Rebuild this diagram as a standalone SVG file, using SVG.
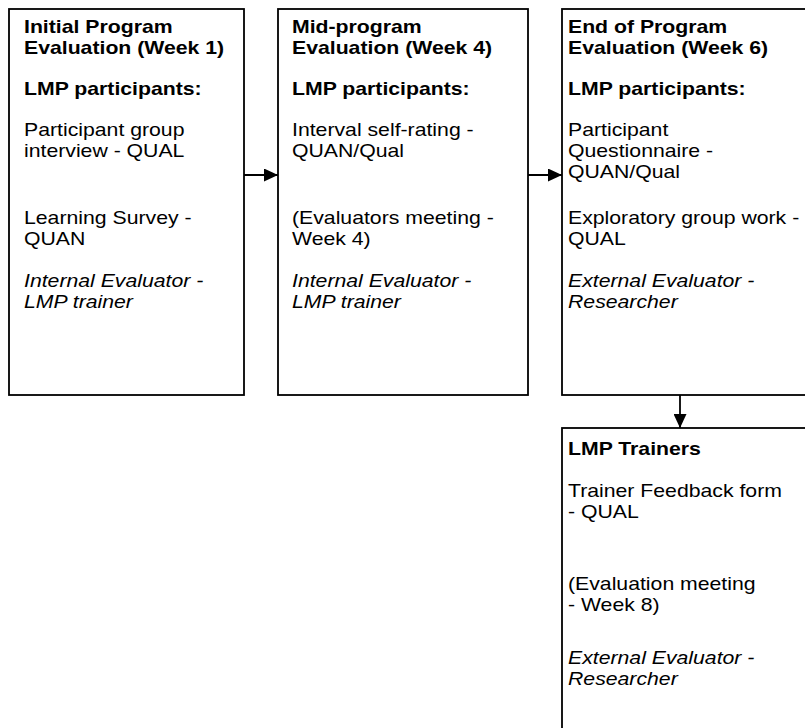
<svg xmlns="http://www.w3.org/2000/svg" width="805" height="728" viewBox="0 0 805 728">
<style>
.box{fill:#fff;stroke:#000;stroke-width:1.8}
text{font-family:"Liberation Sans",Arial,sans-serif;font-size:18px;fill:#000}
.b{font-weight:bold}
.i{font-style:italic}
.conn{stroke:#000;stroke-width:1.8;fill:none}
</style>
<defs>
<marker id="ah" markerUnits="userSpaceOnUse" markerWidth="15" markerHeight="13" refX="14" refY="6.5" orient="auto">
<path d="M0,0 L14,6.5 L0,13 Z" fill="#000"/>
</marker>
</defs>
<rect width="805" height="728" fill="#fff"/>
<g id="n1">
<rect class="box" x="9" y="9" width="235" height="386"/>
<g transform="translate(24 0) scale(1.18 1)">
<text class="b" x="0" y="33">Initial Program</text>
<text class="b" x="0" y="54">Evaluation (Week 1)</text>
<text class="b" x="0" y="95">LMP participants:</text>
<text x="0" y="136">Participant group</text>
<text x="0" y="157">interview - QUAL</text>
<text x="0" y="224">Learning Survey -</text>
<text x="0" y="245">QUAN</text>
<text class="i" x="0" y="287">Internal Evaluator -</text>
<text class="i" x="0" y="308">LMP trainer</text>
</g>
</g>
<g id="n2">
<rect class="box" x="278" y="9" width="250" height="386"/>
<g transform="translate(292 0) scale(1.18 1)">
<text class="b" x="0" y="33">Mid-program</text>
<text class="b" x="0" y="54">Evaluation (Week 4)</text>
<text class="b" x="0" y="95">LMP participants:</text>
<text x="0" y="136">Interval self-rating -</text>
<text x="0" y="157">QUAN/Qual</text>
<text x="0" y="224">(Evaluators meeting -</text>
<text x="0" y="245">Week 4)</text>
<text class="i" x="0" y="287">Internal Evaluator -</text>
<text class="i" x="0" y="308">LMP trainer</text>
</g>
</g>
<g id="n3">
<rect class="box" x="562" y="9" width="260" height="386"/>
<g transform="translate(568 0) scale(1.18 1)">
<text class="b" x="0" y="33">End of Program</text>
<text class="b" x="0" y="54">Evaluation (Week 6)</text>
<text class="b" x="0" y="95">LMP participants:</text>
<text x="0" y="136">Participant</text>
<text x="0" y="157">Questionnaire -</text>
<text x="0" y="178">QUAN/Qual</text>
<text x="0" y="224">Exploratory group work -</text>
<text x="0" y="245">QUAL</text>
<text class="i" x="0" y="287">External Evaluator -</text>
<text class="i" x="0" y="308">Researcher</text>
</g>
</g>
<g id="n4">
<rect class="box" x="562" y="428" width="260" height="320"/>
<g transform="translate(568 0) scale(1.18 1)">
<text class="b" x="0" y="455">LMP Trainers</text>
<text x="0" y="497">Trainer Feedback form</text>
<text x="0" y="518">- QUAL</text>
<text x="0" y="590">(Evaluation meeting</text>
<text x="0" y="611">- Week 8)</text>
<text class="i" x="0" y="664">External Evaluator -</text>
<text class="i" x="0" y="685">Researcher</text>
</g>
</g>
<g id="connectors">
<line class="conn" x1="244" y1="175" x2="278" y2="175" marker-end="url(#ah)"/>
<line class="conn" x1="528" y1="175" x2="562" y2="175" marker-end="url(#ah)"/>
<line class="conn" x1="680" y1="395" x2="680" y2="428" marker-end="url(#ah)"/>
</g>
</svg>
